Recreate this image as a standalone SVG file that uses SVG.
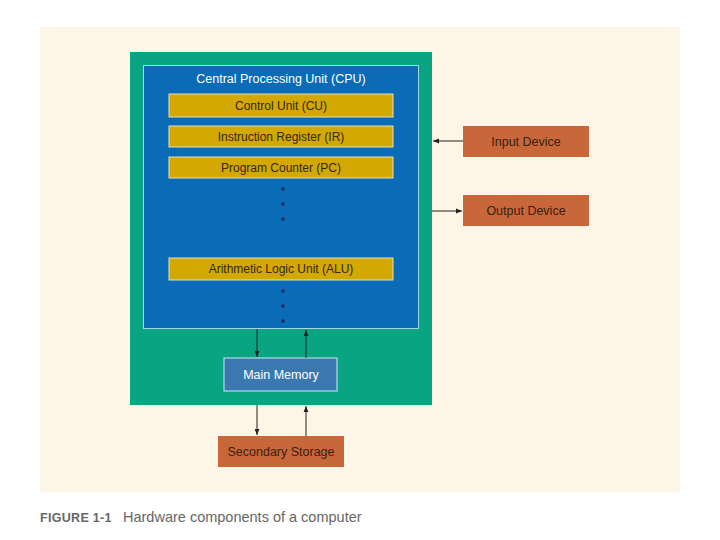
<svg xmlns="http://www.w3.org/2000/svg" width="720" height="540" viewBox="0 0 720 540">
<defs>
<marker id="ah" viewBox="0 0 10 10" refX="10" refY="5" markerWidth="8" markerHeight="6" orient="auto" markerUnits="userSpaceOnUse">
<path d="M0,1 L10,5 L0,9 z" fill="#222"/>
</marker>
<style>
text{font-family:"Liberation Sans",Arial,sans-serif;text-anchor:middle;}
.bar{fill:#d4a803;stroke:#e9e0b0;stroke-width:1;}
.bt{font-size:12px;fill:#33260c;}
.dev{fill:#c8673a;}
.dt{font-size:12.5px;fill:#3a2010;}
.dot{fill:#1a2a50;}
.con{stroke:#222;stroke-width:1;fill:none;marker-end:url(#ah);}
</style>
</defs>
<rect width="720" height="540" fill="#ffffff"/>
<rect x="40" y="27" width="640" height="465" fill="#fdf5e6"/>
<g id="computer">
<rect x="130" y="52" width="302" height="353" fill="#09a583"/>
</g>
<g id="cpu">
<rect x="143.5" y="65.5" width="275" height="263" fill="#0a6cb6" stroke="#9fd8e8" stroke-width="1"/>
<text x="281" y="83" style="font-size:12.5px;fill:#ffffff">Central Processing Unit (CPU)</text>
</g>
<g id="cu"><rect class="bar" x="169" y="94" width="224" height="23"/><text class="bt" x="281" y="110">Control Unit (CU)</text></g>
<g id="ir"><rect class="bar" x="169" y="126" width="224" height="21"/><text class="bt" x="281" y="141">Instruction Register (IR)</text></g>
<g id="pc"><rect class="bar" x="169" y="157" width="224" height="21"/><text class="bt" x="281" y="172">Program Counter (PC)</text></g>
<g id="dots1"><circle class="dot" cx="283" cy="189" r="1.8"/><circle class="dot" cx="283" cy="204" r="1.8"/><circle class="dot" cx="283" cy="219" r="1.8"/></g>
<g id="alu"><rect class="bar" x="169" y="258" width="224" height="22"/><text class="bt" x="281" y="273">Arithmetic Logic Unit (ALU)</text></g>
<g id="dots2"><circle class="dot" cx="283" cy="291" r="1.8"/><circle class="dot" cx="283" cy="306" r="1.8"/><circle class="dot" cx="283" cy="321" r="1.8"/></g>
<g id="mainmem"><rect x="224" y="358" width="113" height="33" fill="#3b78b0" stroke="#cfeaf5" stroke-width="1"/><text x="281" y="379" style="font-size:12.5px;fill:#ffffff">Main Memory</text></g>
<g id="secondary"><rect class="dev" x="218" y="436" width="126" height="31"/><text class="dt" x="281" y="456">Secondary Storage</text></g>
<g id="input"><rect class="dev" x="463" y="126" width="126" height="31"/><text class="dt" x="526" y="146">Input Device</text></g>
<g id="output"><rect class="dev" x="463" y="195" width="126" height="31"/><text class="dt" x="526" y="215">Output Device</text></g>
<g id="connectors">
<line class="con" x1="257" y1="329" x2="257" y2="357"/>
<line class="con" x1="306" y1="358" x2="306" y2="330"/>
<line class="con" x1="257" y1="405" x2="257" y2="435"/>
<line class="con" x1="306" y1="436" x2="306" y2="406"/>
<line class="con" x1="463" y1="141" x2="433" y2="141"/>
<line class="con" x1="432" y1="211" x2="462" y2="211"/>
</g>
<text x="40" y="522" style="text-anchor:start;font-size:12.5px;font-weight:bold;fill:#666;letter-spacing:0.3px">FIGURE 1-1</text>
<text x="123" y="522" style="text-anchor:start;font-size:14.5px;fill:#666">Hardware components of a computer</text>
</svg>
